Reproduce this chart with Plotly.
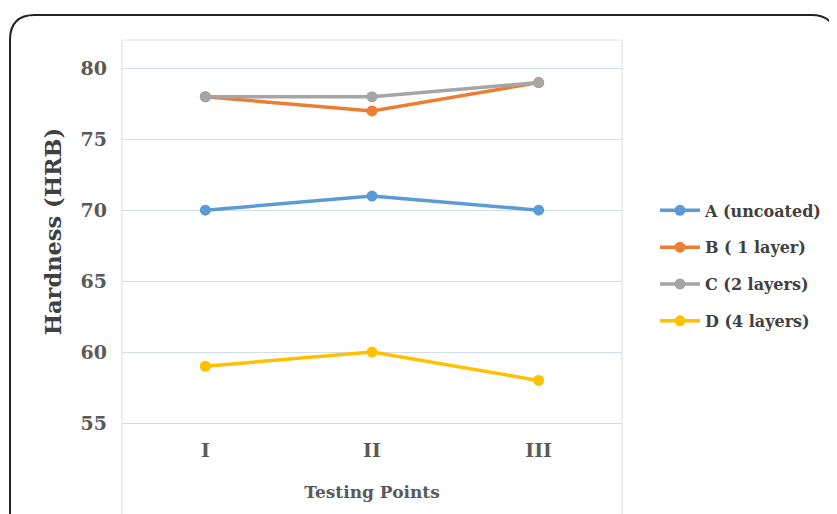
import plotly.graph_objects as go

categories = ["I", "II", "III"]
series_names = ["A (uncoated)", "B ( 1 layer)", "C (2 layers)", "D (4 layers)"]
series_values = [
    [70, 71, 70],
    [78, 77, 79],
    [78, 78, 79],
    [59, 60, 58],
]
colors = ["#5b9bd5", "#ed7d31", "#a5a5a5", "#ffc000"]
y_ticks = [55, 60, 65, 70, 75, 80]

FONT = "DejaVu Serif"
fig = go.Figure()
for i, (name, vals, col) in enumerate(zip(series_names, series_values, colors)):
    fig.add_trace(go.Scatter(
        x=categories, y=vals, name=name, mode="lines+markers",
        line=dict(color=col, width=3.5), marker=dict(color=col, size=11),
        legendgroup=f"g{i}",
    ))

# page is offset by 8px body margin; plot area target 122..622 x 40..423 in window
# paper coords: x 0..1 => 500px, y 0..1 => 383px
L, R, T, B = -0.224, 1.428, 1.065, -0.4
rx, ry = 0.05, 0.065
path = (f"M {L},{B} L {L},{T-ry} Q {L},{T} {L+rx},{T} "
        f"L {R-rx},{T} Q {R},{T} {R},{T-ry} L {R},{B}")
shapes = [
    dict(type="path", xref="paper", yref="paper", path=path,
         line=dict(color="#222222", width=2)),
    dict(type="line", xref="paper", yref="paper", x0=0, x1=0, y0=1, y1=-0.4,
         line=dict(color="#d9d9d9", width=1)),
    dict(type="line", xref="paper", yref="paper", x0=1, x1=1, y0=1, y1=-0.4,
         line=dict(color="#d9d9d9", width=1)),
    dict(type="line", xref="paper", yref="paper", x0=0, x1=1, y0=1, y1=1,
         line=dict(color="#e3e3e3", width=1)),
]

fig.update_layout(
    width=837, height=514,
    margin=dict(l=114, r=223, t=32, b=99),
    paper_bgcolor="white", plot_bgcolor="white",
    font=dict(family=FONT, color="#595959"),
    shapes=shapes,
    showlegend=True,
    legend=dict(
        x=1.066, y=0.41, xanchor="left", yanchor="middle",
        font=dict(family=FONT, size=16, color="#404040", weight="bold"),
        tracegroupgap=13, itemwidth=40,
        bgcolor="rgba(0,0,0,0)",
    ),
    xaxis=dict(
        type="category", range=[-0.5, 2.5],
        showgrid=False, showline=True, linecolor="#d9d9d9", linewidth=1,
        ticks="", ticklabelstandoff=10,
        tickfont=dict(family=FONT, size=19, color="#595959", weight="bold"),
        title=dict(text="Testing Points", standoff=26,
                   font=dict(family=FONT, size=17, color="#595959", weight="bold")),
        zeroline=False,
    ),
    yaxis=dict(
        range=[55, 82], tickvals=y_ticks,
        showgrid=True, gridcolor="#d0deed", gridwidth=1,
        showline=False, zeroline=False, ticks="", ticklabelstandoff=14,
        tickfont=dict(family=FONT, size=19, color="#595959", weight="bold"),
        title=dict(text="Hardness (HRB)", standoff=12,
                   font=dict(family=FONT, size=22.5, color="#404040", weight="bold")),
    ),
)

fig.write_html("out.html")
